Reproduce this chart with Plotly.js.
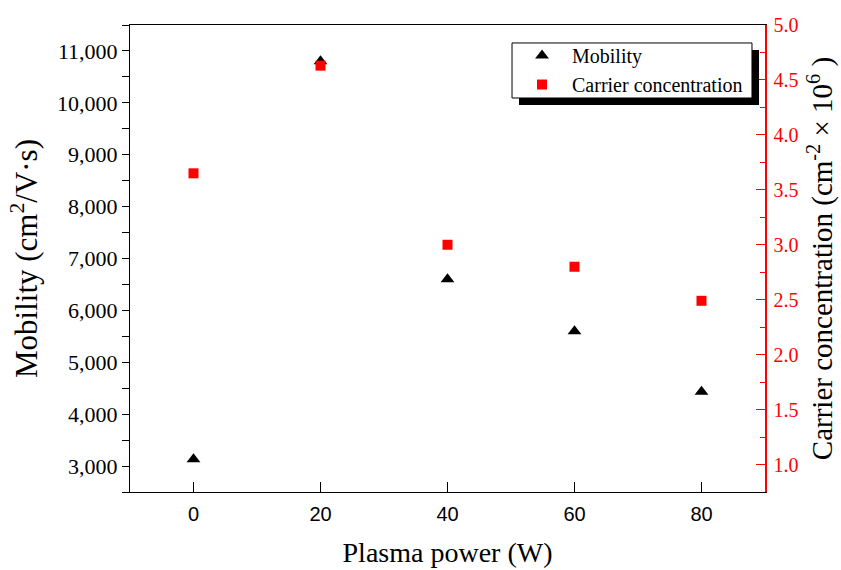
<!DOCTYPE html>
<html>
<head>
<meta charset="utf-8">
<script src="https://cdn.plot.ly/plotly-3.0.1.min.js"></script>
<style>html,body{margin:0;padding:0;background:#fff;}#chart{width:841px;height:570px;}</style>
</head>
<body>
<div id="chart"></div>
<script>
// Data
const plasmaPower = [0, 20, 40, 60, 80];
const mobility = [3130, 10800, 6600, 5600, 4430];
const carrierConcentration = [3.65, 4.63, 3.0, 2.8, 2.49];
const seriesNames = ['Mobility', 'Carrier concentration'];

const serif = 'Liberation Serif, Times New Roman, serif';
const sans = 'Liberation Sans, Arial, sans-serif';

const traces = [
  {
    x: plasmaPower, y: mobility, name: seriesNames[0], type: 'scatter', mode: 'markers',
    marker: {symbol: 'triangle-up', size: 12, color: '#000000'}, yaxis: 'y'
  },
  {
    x: plasmaPower, y: carrierConcentration, name: seriesNames[1], type: 'scatter', mode: 'markers',
    marker: {symbol: 'square', size: 10, color: '#ff0000'}, yaxis: 'y2'
  }
];

const layout = {
  width: 841, height: 570,
  margin: {l: 130, r: 76, t: 25, b: 78},
  paper_bgcolor: '#ffffff', plot_bgcolor: '#ffffff',
  showlegend: true,
  legend: {
    x: 0.6016, y: 0.9764, xanchor: 'left', yanchor: 'top',
    bgcolor: 'rgba(0,0,0,0)', borderwidth: 0,
    font: {family: serif, size: 20, color: '#000'},
    itemwidth: 50, tracegroupgap: 0
  },
  shapes: [
    { // legend shadow
      type: 'rect', xref: 'paper', yref: 'paper',
      x0: 0.6126, x1: 0.9906, y0: 0.8287, y1: 0.9465,
      fillcolor: '#000000', line: {width: 0}, layer: 'above'
    },
    { // legend box
      type: 'rect', xref: 'paper', yref: 'paper',
      x0: 0.6016, x1: 0.9795, y0: 0.8437, y1: 0.9615,
      fillcolor: '#ffffff', line: {width: 1, color: '#000000'}, layer: 'above'
    }
  ],
  xaxis: {
    range: [-10, 90], dtick: 20, tick0: 0,
    ticks: 'inside', ticklen: 10, tickwidth: 1, tickcolor: '#000',
    showline: true, linecolor: '#000', linewidth: 1, mirror: true,
    showgrid: false, zeroline: false,
    ticklabelstandoff: 4,
    tickfont: {family: sans, size: 20, color: '#000'},
    title: {text: 'Plasma power (W)', font: {family: serif, size: 28, color: '#000'}, standoff: 18}
  },
  yaxis: {
    range: [2500, 11500], dtick: 1000, tick0: 0,
    ticks: 'outside', ticklen: 7, tickwidth: 1, tickcolor: '#000',
    minor: {dtick: 500, tick0: 0, ticks: 'outside', ticklen: 7, tickcolor: '#000', showgrid: false},
    showline: true, linecolor: '#000', linewidth: 1, mirror: false,
    showgrid: false, zeroline: false,
    tickformat: ',d',
    tickfont: {family: serif, size: 22, color: '#000'},
    title: {text: 'Mobility (cm<sup>2</sup>/V·s)', font: {family: serif, size: 31, color: '#000'}, standoff: 10}
  },
  yaxis2: {
    overlaying: 'y', side: 'right',
    range: [0.75, 5.0], dtick: 0.5, tick0: 0,
    ticks: 'inside', ticklen: 9, tickwidth: 1, tickcolor: '#ff0000',
    minor: {dtick: 0.25, tick0: 0, ticks: 'inside', ticklen: 5, tickcolor: '#ff0000', showgrid: false},
    showline: true, linecolor: '#ff0000', linewidth: 1.5,
    showgrid: false, zeroline: false,
    tickformat: '.1f',
    ticklabelstandoff: 3,
    tickfont: {family: serif, size: 20, color: '#ff0000'},
    title: {text: 'Carrier concentration (cm<sup>-2</sup> × 10<sup>6</sup> )', font: {family: serif, size: 29, color: '#000'}, standoff: 14}
  }
};

Plotly.newPlot('chart', traces, layout, {displayModeBar: false, staticPlot: true});
</script>
</body>
</html>
